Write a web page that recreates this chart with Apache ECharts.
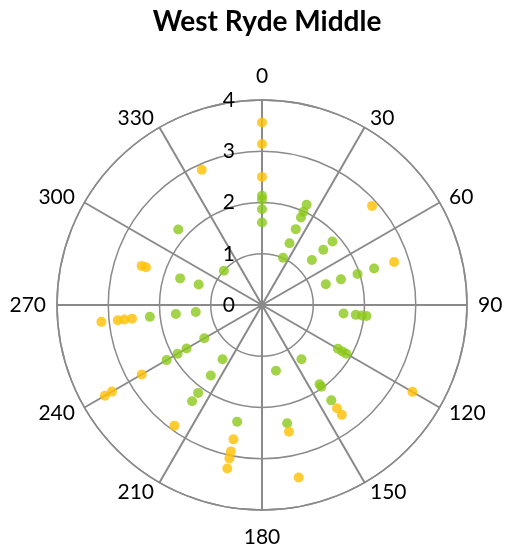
<!DOCTYPE html>
<html>
<head>
<meta charset="utf-8">
<style>
  html, body { margin: 0; padding: 0; background: #fff; }
  #chart { width: 505px; height: 550px; }
</style>
<script src="https://cdn.jsdelivr.net/npm/echarts@6/dist/echarts.min.js"></script>
</head>
<body>
<div id="chart"></div>
<script>
// Angle ticks (degrees, clockwise from north) and radius ticks
const angleTicks = [0, 30, 60, 90, 120, 150, 180, 210, 240, 270, 300, 330];
const radiusTicks = [0, 1, 2, 3, 4];

// Green series: [direction (deg), value]
const greenPoints = [
  [0, 2.13], [0, 2.06], [0, 1.87], [0, 1.61],
  [24, 2.14], [24, 1.99], [24, 1.87], [24, 1.62], [24, 1.32], [24, 1.01],
  [48, 1.85], [48, 1.61], [48, 1.31],
  [72, 2.30], [72, 1.96], [72, 1.62], [72, 1.31],
  [96, 1.60], [96, 1.84], [96, 1.96], [96, 2.05],
  [120, 1.71], [120, 1.81], [120, 1.90],
  [144, 1.31], [144, 1.91], [144, 1.97], [144, 2.30],
  [168, 1.31], [168, 2.36],
  [192, 2.33],
  [216, 1.31], [216, 1.70], [216, 2.12], [216, 2.32],
  [240, 1.30], [240, 1.70], [240, 1.90], [240, 2.15],
  [264, 2.20], [264, 1.69], [264, 1.30],
  [288, 1.68], [288, 1.30],
  [312, 2.20], [312, 1.00]
];

// Yellow series: [direction (deg), value]
const yellowPoints = [
  [0, 3.56], [0, 3.14], [0, 2.50],
  [48, 2.89],
  [72, 2.71],
  [120, 3.39],
  [144, 2.49], [144, 2.65],
  [168, 2.53], [168, 3.44],
  [192, 2.68], [192, 2.92], [192, 3.06], [192, 3.26],
  [216, 2.91],
  [240, 2.71], [240, 3.38], [240, 3.54],
  [264, 3.15], [264, 2.83], [264, 2.70], [264, 2.55],
  [288, 2.38], [288, 2.47],
  [336, 2.89]
];

const gridColor = '#8a8a8a';
const labelFont = 'Lato, "Open Sans", sans-serif';
const rMax = radiusTicks[radiusTicks.length - 1];

const chart = echarts.init(document.getElementById('chart'), null, { renderer: 'canvas' });

chart.setOption({
  animation: false,
  backgroundColor: '#ffffff',
  title: {
    text: 'West Ryde Middle',
    left: 262,
    textAlign: 'center',
    top: 3,
    textStyle: { fontFamily: labelFont, fontWeight: 'bold', fontSize: 28, color: '#000' }
  },
  polar: { center: [262, 305], radius: 205 },
  angleAxis: {
    type: 'value',
    min: 0,
    max: 360,
    interval: 30,
    startAngle: 90,
    clockwise: true,
    axisLine: { show: true, lineStyle: { color: gridColor, width: 1.5 } },
    axisTick: { show: false },
    axisLabel: { show: false },
    splitLine: { show: true, lineStyle: { color: gridColor, width: 2 } }
  },
  radiusAxis: {
    type: 'value',
    min: radiusTicks[0],
    max: rMax,
    interval: 1,
    axisLine: { show: true, lineStyle: { color: gridColor, width: 2 } },
    axisTick: { show: false },
    axisLabel: {
      margin: 27,
      padding: [6, 0, 0, 0],
      fontFamily: labelFont,
      fontSize: 21,
      color: '#000'
    },
    splitLine: { show: true, lineStyle: { color: gridColor, width: 1.5 } }
  },
  series: [
    {
      name: 'Green',
      type: 'scatter',
      coordinateSystem: 'polar',
      symbol: 'circle',
      symbolSize: 10,
      itemStyle: { color: '#8cc81a' },
      data: greenPoints.map(p => [p[1], p[0]])
    },
    {
      name: 'Yellow',
      type: 'scatter',
      coordinateSystem: 'polar',
      symbol: 'circle',
      symbolSize: 10,
      itemStyle: { color: '#ffc000' },
      data: yellowPoints.map(p => [p[1], p[0]])
    }
  ]
});

// Direction labels sit just outside the rim, vertically centred on the spoke end
// (top/bottom labels hang above/below it), aligned away from the centre.
function polarPoint(r, a) {
  let p = chart.convertToPixel({ seriesIndex: 0 }, [r, a]);
  if (!p) {
    p = chart.getModel().getSeriesByIndex(0).coordinateSystem.dataToPoint([r, a]);
  }
  return p;
}

const origin = polarPoint(0, 0);
const angleLabels = angleTicks.map(a => {
  const rim = polarPoint(rMax, a);
  const dx = rim[0] - origin[0];
  const dy = rim[1] - origin[1];
  const len = Math.hypot(dx, dy);
  const ux = dx / len;
  const uy = dy / len;
  const nearVertical = Math.abs(ux) < 0.3;
  const gap = nearVertical ? (uy < 0 ? 13 : 17) : 11;
  const align = nearVertical ? 'center' : (ux > 0 ? 'left' : 'right');
  const vAlign = nearVertical ? (uy < 0 ? 'bottom' : 'top') : 'middle';
  return {
    type: 'text',
    x: rim[0] + ux * gap,
    y: rim[1] + uy * gap,
    silent: true,
    style: {
      text: String(a),
      fill: '#000',
      font: '21px ' + labelFont,
      fontSize: 21,
      fontFamily: labelFont,
      align: align,
      verticalAlign: vAlign,
      textAlign: align,
      textVerticalAlign: vAlign
    }
  };
});

chart.setOption({ graphic: { elements: angleLabels } });
</script>
</body>
</html>
